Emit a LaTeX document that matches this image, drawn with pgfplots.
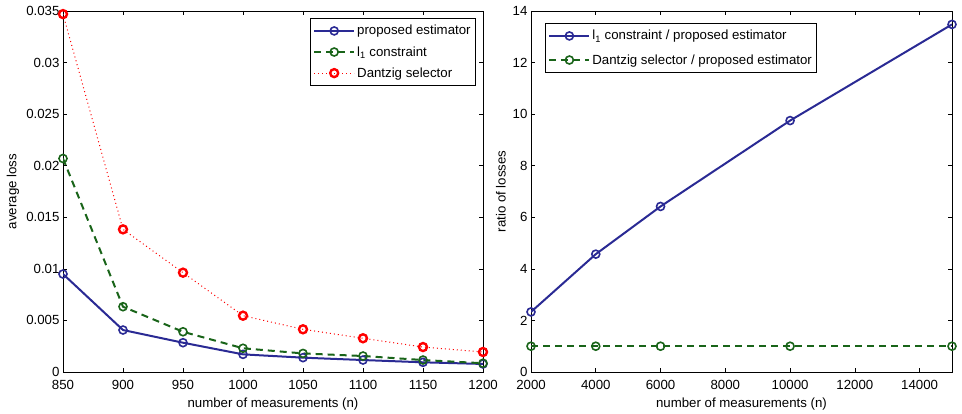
\documentclass[border=0pt]{standalone}
\usepackage{fontspec}
\setmainfont{Liberation Sans}
\usepackage{pgfplots}
\pgfplotsset{compat=1.18}
\definecolor{mblue}{RGB}{42,42,148}
\definecolor{mgreen}{RGB}{25,100,25}
\definecolor{mred}{RGB}{255,0,0}
\newcommand{\fs}{\fontsize{13.3}{15}\selectfont}
\pgfplotsset{mystyle/.style={
  scale only axis, height=361bp,
  tick align=inside, major tick length=4bp,
  tick label style={font=\fs},
  xticklabel style={yshift=-5bp},
  /pgf/number format/assume math mode=true,
  /pgf/number format/1000 sep={},
  axis line style={line width=0.7bp},
  every tick/.style={black, line width=0.6bp},
  legend cell align=left,
  legend style={draw=black, line width=0.8bp, font=\fs, inner xsep=3bp, inner ysep=5bp},
  legend image code/.code={\draw[mark repeat=2,mark phase=2] plot coordinates {(0bp,0bp) (20bp,0bp) (40bp,0bp)};},
  every axis x label/.style={at={(axis description cs:0.5,0)}, yshift=-32bp, anchor=center, font=\fs},
}}
\begin{document}
\begin{tikzpicture}
\path[use as bounding box] (0,0) rectangle (962bp,414bp);
\begin{axis}[mystyle, at={(63bp,42bp)}, anchor=south west, width=420bp,
  xmin=850, xmax=1200, ymin=0, ymax=0.035,
  xtick={850,900,...,1200},
  ytick={0,0.005,...,0.035},
  scaled y ticks=false,
  yticklabel style={/pgf/number format/fixed, /pgf/number format/precision=3},
  xlabel={number of measurements (n)},
  ylabel={average loss},
  every axis y label/.style={at={(axis description cs:0,0.5)}, xshift=-50bp, rotate=90, anchor=center, font=\fs},
  legend style={at={(rel axis cs:1,1)}, xshift=-7bp, yshift=-7bp, anchor=north east, row sep=6bp},
]
\addplot[mblue, line width=2bp, mark=o, mark size=4bp, mark options={solid, line width=1.6bp}] coordinates {
(850,0.0095) (900,0.00407) (950,0.00284) (1000,0.00171) (1050,0.00139) (1100,0.00116) (1150,0.00094) (1200,0.00078)};
\addlegendentry{proposed estimator}
\addplot[mgreen, line width=2bp, dash pattern=on 7bp off 5bp, mark=o, mark size=4bp, mark options={solid, line width=1.6bp}] coordinates {
(850,0.0207) (900,0.00633) (950,0.0039) (1000,0.0023) (1050,0.0018) (1100,0.00155) (1150,0.00116) (1200,0.00085)};
\addlegendentry{l\textsubscript{1} constraint}
\addplot[mred, line width=1bp, dash pattern=on 1bp off 3bp, mark=o, mark size=4bp, mark options={solid, line width=2.4bp}] coordinates {
(850,0.0347) (900,0.01383) (950,0.00963) (1000,0.00546) (1050,0.00414) (1100,0.00327) (1150,0.00242) (1200,0.00194)};
\addlegendentry{Dantzig selector}
\end{axis}
\begin{axis}[mystyle, at={(531bp,42bp)}, anchor=south west, width=421bp,
  xmin=2000, xmax=15000, ymin=0, ymax=14,
  xtick={2000,4000,...,14000},
  ytick={0,2,...,14},
  scaled x ticks=false,
  xlabel={number of measurements (n)},
  ylabel={ratio of losses},
  every axis y label/.style={at={(axis description cs:0,0.5)}, xshift=-30bp, rotate=90, anchor=center, font=\fs},
  legend style={at={(rel axis cs:0,1)}, xshift=14bp, yshift=-12bp, anchor=north west, row sep=9bp},
]
\addplot[mblue, line width=2bp, mark=o, mark size=4bp, mark options={solid, line width=1.6bp}] coordinates {
(2000,2.33) (4000,4.57) (6000,6.42) (10000,9.75) (15000,13.48)};
\addlegendentry{l\textsubscript{1} constraint / proposed estimator}
\addplot[mgreen, line width=2bp, dash pattern=on 7bp off 5bp, mark=o, mark size=4bp, mark options={solid, line width=1.6bp}] coordinates {
(2000,1.0) (4000,1.0) (6000,1.0) (10000,1.0) (15000,1.0)};
\addlegendentry{Dantzig selector / proposed estimator}
\end{axis}
\end{tikzpicture}
\end{document}
